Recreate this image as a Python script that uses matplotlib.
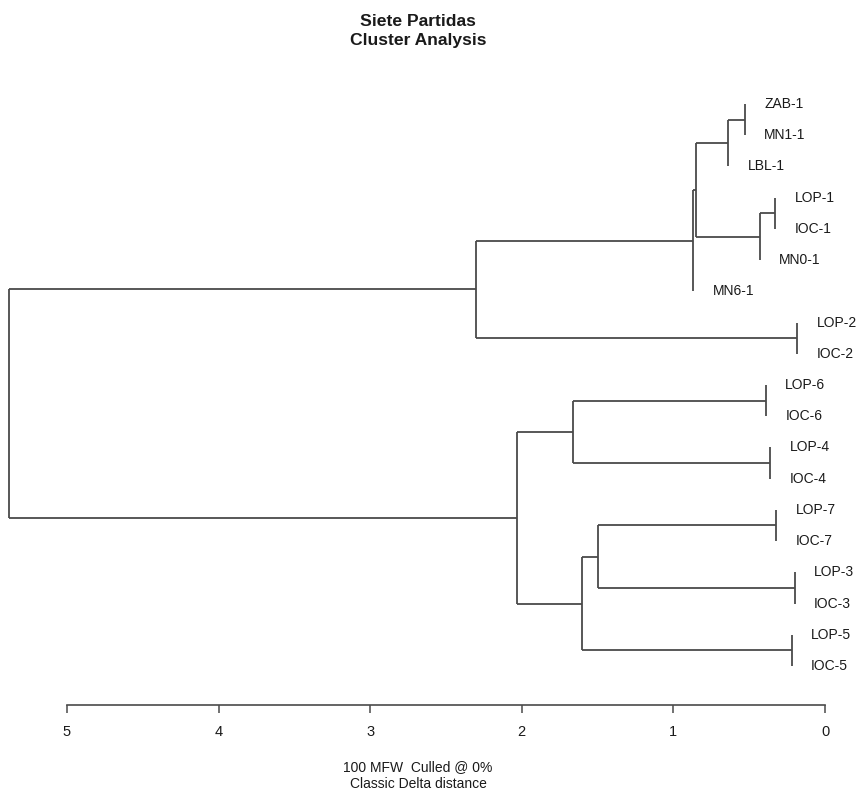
import matplotlib
matplotlib.use("Agg")
import matplotlib.pyplot as plt

plt.rcParams['font.family'] = ['Liberation Sans', 'DejaVu Sans']

# leaves, top to bottom
labels = ["ZAB-1", "MN1-1", "LBL-1", "LOP-1", "IOC-1", "MN0-1", "MN6-1",
          "LOP-2", "IOC-2", "LOP-6", "IOC-6", "LOP-4", "IOC-4",
          "LOP-7", "IOC-7", "LOP-3", "IOC-3", "LOP-5", "IOC-5"]

# merges, linkage style: ids < 19 are leaves, node k gets id 19 + k
merge_left = [0, 19, 3, 21, 20, 23, 7, 24, 9, 11, 27, 13, 15, 30, 17, 32, 29, 26]
merge_right = [1, 2, 4, 5, 22, 6, 8, 25, 10, 12, 28, 14, 16, 31, 18, 33, 34, 35]
merge_height = [0.53, 0.64, 0.33, 0.43, 0.85, 0.87, 0.185, 2.30, 0.39, 0.36,
                1.66, 0.32, 0.20, 1.50, 0.22, 1.60, 2.03, 5.38]

xticks = [5, 4, 3, 2, 1, 0]

LINE = '#4a4a4a'


def node_positions(n, left, right, height):
    ys = list(range(n))
    xs = [None] * n
    for a, b, h in zip(left, right, height):
        ys.append((ys[a] + ys[b]) / 2.0)
        xs.append(h)
        # leaves sit at the height of their first merge
        for c in (a, b):
            if c < n:
                xs[c] = h
    return xs, ys


fig = plt.figure(figsize=(8.62, 7.92), dpi=100)
ax = fig.add_axes([0.0, 1 - 705 / 792, 1.0, (705 - 80) / 792])

n = len(labels)
xs, ys = node_positions(n, merge_left, merge_right, merge_height)

for a, b, h in zip(merge_left, merge_right, merge_height):
    ax.plot([h, h], [ys[a], ys[b]], color=LINE, lw=1.3, solid_capstyle='butt')
    for c in (a, b):
        if xs[c] != h:
            ax.plot([h, xs[c]], [ys[c], ys[c]], color=LINE, lw=1.3,
                    solid_capstyle='butt')

for i, lab in enumerate(labels):
    ax.annotate(lab, (xs[i], ys[i]), xytext=(14, 0), textcoords='offset points',
                ha='left', va='center', fontsize=10, color='#1a1a1a')

ax.set_xlim(825 / 151.6, -37 / 151.6)
ax.set_ylim(19.25, -0.77)

for s in ['top', 'left', 'right']:
    ax.spines[s].set_visible(False)
ax.spines['bottom'].set_bounds(0, 5)
ax.spines['bottom'].set_color(LINE)
ax.spines['bottom'].set_linewidth(1.2)
ax.set_yticks([])
ax.set_xticks(xticks)
ax.set_xticklabels([str(t) for t in xticks])
ax.tick_params(axis='x', direction='out', length=5.5, width=1.1, color=LINE,
               pad=9, labelsize=10.5, labelcolor='#1a1a1a')

fig.text(0.485, 1 - 21 / 792, "Siete Partidas", ha='center', va='center',
         fontsize=12.6, fontweight='bold', color='#1a1a1a')
fig.text(0.485, 1 - 41 / 792, "Cluster Analysis", ha='center', va='center',
         fontsize=12.6, fontweight='bold', color='#1a1a1a')
fig.text(0.485, 1 - 767 / 792, "100 MFW  Culled @ 0%", ha='center', va='center',
         fontsize=10, color='#1a1a1a')
fig.text(0.485, 1 - 784 / 792, "Classic Delta distance", ha='center', va='center',
         fontsize=10, color='#1a1a1a')

fig.savefig("out.png", dpi=100)
